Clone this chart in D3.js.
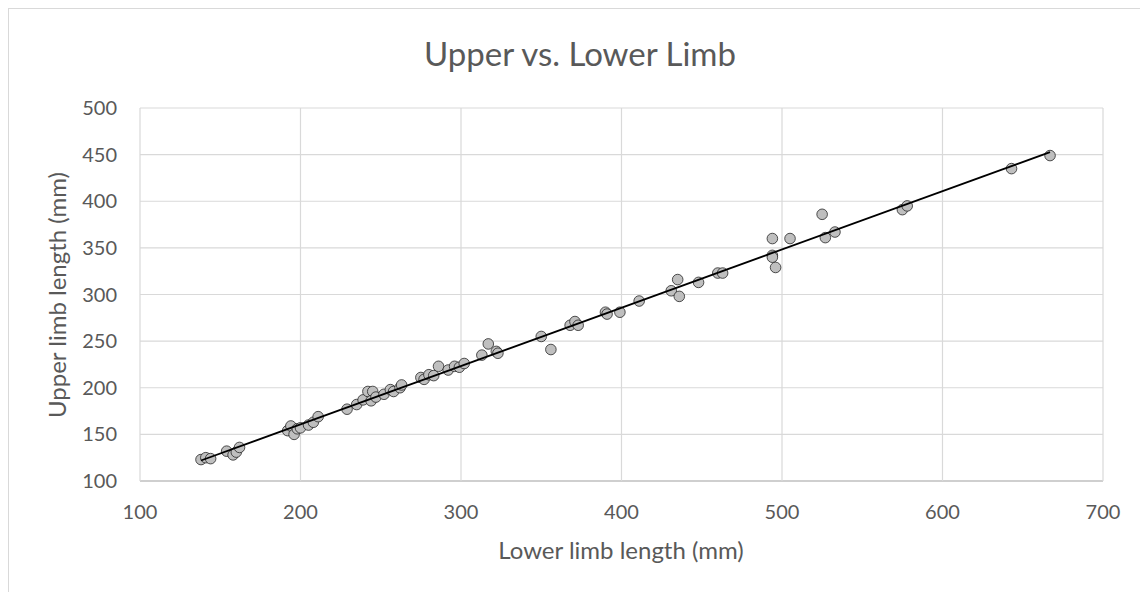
<!DOCTYPE html>
<html>
<head>
<meta charset="utf-8">
<script src="https://cdn.jsdelivr.net/npm/d3@7"></script>
<style>
  body { margin: 0; background: #fff; }
  svg text { font-family: Lato, "Open Sans", sans-serif; fill: #595959; }
</style>
</head>
<body>
<svg width="1140" height="592"></svg>
<script>
// lower limb length (mm)
const lower = [138, 141, 144, 154, 158, 160, 162, 192, 194, 196, 198, 200, 205, 208, 211,
    229, 235, 239, 242, 245, 244, 247, 252, 256, 258, 262, 263, 275, 277, 280, 283, 286,
    292, 296, 299, 302, 313, 317, 322, 323, 350, 356, 368, 371, 373, 390, 391, 399, 411,
    431, 435, 436, 448, 460, 463, 494, 494, 494, 496, 505, 525, 527, 533, 575, 578, 643, 667];
// upper limb length (mm)
const upper = [123, 125, 124, 132, 128, 131, 136, 154, 159, 150, 156, 157, 160, 163, 169,
    177, 182, 187, 196, 196, 186, 190, 193, 198, 196, 200, 203, 211, 209, 214, 213, 223,
    219, 223, 222, 226, 235, 247, 239, 237, 255, 241, 267, 271, 267, 281, 279, 281, 293,
    304, 316, 298, 313, 323, 323, 360, 342, 340, 329, 360, 386, 361, 367, 391, 395, 435, 449];

const xTicks = [100, 200, 300, 400, 500, 600, 700];
const yTicks = [100, 150, 200, 250, 300, 350, 400, 450, 500];

const svg = d3.select("svg");

// cadre du graphique
svg.append("rect")
    .attr("x", 8.5).attr("y", 8.5)
    .attr("width", 1140).attr("height", 600)
    .attr("fill", "none")
    .attr("stroke", "#d9d9d9");

const x = d3.scaleLinear().domain([100, 700]).range([140, 1103]);
const y = d3.scaleLinear().domain([100, 500]).range([481, 108]);

// grilles
svg.append("g")
    .selectAll("line.h")
    .data(yTicks)
    .enter()
    .append("line")
    .attr("x1", x(100)).attr("x2", x(700))
    .attr("y1", d => y(d)).attr("y2", d => y(d))
    .attr("stroke", d => d === 100 ? "#bfbfbf" : "#d9d9d9")
    .attr("stroke-width", d => d === 100 ? 1.5 : 1.2);

svg.append("g")
    .selectAll("line.v")
    .data(xTicks)
    .enter()
    .append("line")
    .attr("x1", d => x(d)).attr("x2", d => x(d))
    .attr("y1", y(100)).attr("y2", y(500))
    .attr("stroke", "#d9d9d9")
    .attr("stroke-width", 1.2);

// labels des ticks
svg.append("g")
    .selectAll("text")
    .data(yTicks)
    .enter()
    .append("text")
    .attr("x", 117)
    .attr("y", d => y(d))
    .attr("dy", "0.35em")
    .attr("text-anchor", "end")
    .style("font-size", "20px")
    .text(d => d);

svg.append("g")
    .selectAll("text")
    .data(xTicks)
    .enter()
    .append("text")
    .attr("x", d => x(d))
    .attr("y", 512)
    .attr("dy", "0.35em")
    .attr("text-anchor", "middle")
    .style("font-size", "20px")
    .text(d => d);

// titres
svg.append("text")
    .attr("x", 580).attr("y", 54)
    .attr("dy", "0.35em")
    .attr("text-anchor", "middle")
    .style("font-size", "33px")
    .text("Upper vs. Lower Limb");

svg.append("text")
    .attr("x", 621).attr("y", 551)
    .attr("dy", "0.35em")
    .attr("text-anchor", "middle")
    .style("font-size", "24px")
    .text("Lower limb length (mm)");

svg.append("text")
    .attr("transform", "translate(58,295) rotate(-90)")
    .attr("dy", "0.35em")
    .attr("text-anchor", "middle")
    .style("font-size", "24px")
    .text("Upper limb length (mm)");

// points
const points = lower.map((v, i) => ({ lx: v, uy: upper[i] }));

svg.append("g")
    .selectAll("circle")
    .data(points)
    .enter()
    .append("circle")
    .attr("cx", d => x(d.lx))
    .attr("cy", d => y(d.uy))
    .attr("r", 5.3)
    .attr("fill", "#bfbfbf")
    .attr("stroke", "#262626")
    .attr("stroke-width", 0.8);

// droite de tendance (moindres carrés)
const mx = d3.mean(lower), my = d3.mean(upper);
let sxy = 0, sxx = 0;
lower.forEach((v, i) => {
    sxy += (v - mx) * (upper[i] - my);
    sxx += (v - mx) * (v - mx);
});
const slope = sxy / sxx;
const icpt = my - slope * mx;
const x0 = d3.min(lower), x1 = d3.max(lower);

svg.append("line")
    .attr("x1", x(x0)).attr("y1", y(icpt + slope * x0))
    .attr("x2", x(x1)).attr("y2", y(icpt + slope * x1))
    .attr("stroke", "#000")
    .attr("stroke-width", 1.8);
</script>
</body>
</html>
